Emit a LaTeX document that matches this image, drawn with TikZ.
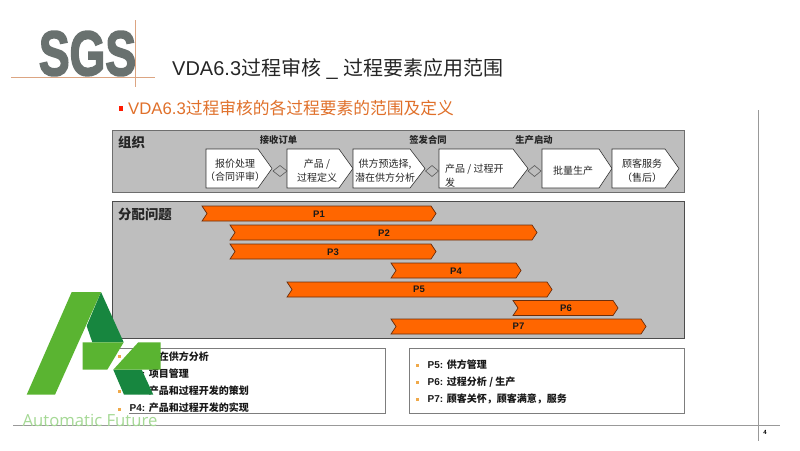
\documentclass[tikz,border=0pt]{standalone}
\usepackage{fontspec}
\usepackage{tikz}
\setmainfont{Liberation Sans}
\newfontfamily\cjk{Noto Sans CJK SC}
\newfontface\logofont{Liberation Sans Bold}[FakeBold=3]
\definecolor{SgsGray}{HTML}{69716F}
\definecolor{SgsLine}{HTML}{DCA582}
\definecolor{SubOrange}{HTML}{E0702A}
\definecolor{BarOrange}{HTML}{FF6600}
\definecolor{BarEdge}{HTML}{6B2E0C}
\definecolor{PanelGray}{HTML}{BEBEBE}
\definecolor{PanelEdge}{HTML}{6E6E6E}
\definecolor{BulletGold}{HTML}{EFA94A}
\definecolor{LogoLight}{HTML}{5AB431}
\definecolor{LogoDark}{HTML}{17863F}
\definecolor{LogoText}{HTML}{A5D995}
\tikzset{
  panelbox/.style={fill=PanelGray, draw=PanelEdge, line width=1pt},
  notebox/.style={fill=white, draw=PanelEdge!90, line width=1pt},
  procbox/.style={fill=white, draw=black!80, line width=0.6pt},
  gatemark/.style={fill=PanelGray, draw=black!65, line width=0.6pt},
  phasebar/.style={fill=BarOrange, draw=BarEdge, line width=0.7pt},
  barlabel/.style={font=\fontsize{9.5}{10}\selectfont\bfseries, text=black!90, inner sep=0pt},
  proclabel/.style={font=\fontsize{10}{13.5}\selectfont\cjk, align=center, text=black!85, inner sep=0pt},
  gatelabel/.style={font=\fontsize{9.3}{10}\selectfont\cjk\bfseries, text=black!85, inner sep=0pt},
  notelabel/.style={font=\fontsize{10}{10}\selectfont\bfseries, text=black!90, anchor=west, inner sep=0pt},
  notebullet/.style={fill=BulletGold, draw=none}
}

\begin{document}
\begin{tikzpicture}[x=1pt, y=-1pt]
  \useasboundingbox[fill=white] (0,0) rectangle (800,450);

  % SGS Logo
  \node[inner sep=0pt, text=SgsGray, font=\fontsize{63}{63}\logofont, xscale=0.73, transform shape] (sgslogo) at (87.5,53.5) {SGS};
  \draw[SgsLine, line width=1pt] (11,77) -- (155,77);
  \draw[SgsLine, line width=1pt] (135,20) -- (135,87);

  % Slide Titles
  \node[anchor=base west, inner sep=0pt, text=black!85, font=\fontsize{20}{20}\selectfont] (title) at (172,75.5) {VDA6.3{\cjk 过程审核} \_ {\cjk 过程要素应用范围}};
  \fill[red!80!orange] (118.5,106) rectangle (122.5,110.5);
  \node[anchor=base west, inner sep=0pt, text=SubOrange, font=\fontsize{16.75}{20}\selectfont] (subtitle) at (128,114) {VDA6.3{\cjk 过程审核的各过程要素的范围及定义}};

  % Page Frame
  \draw[gray!80, line width=0.7pt] (758,110) -- (758,441);
  \draw[gray!80, line width=0.7pt] (13,425.5) -- (780,425.5);
  \node[inner sep=0pt, font=\fontsize{6}{7}\selectfont\bfseries] (pagenum) at (765,432) {4};

  % Organisation Panel
  \draw[panelbox] (112,130.5) rectangle (684,192);
  \node[anchor=west, inner sep=0pt, font=\fontsize{13.4}{14}\selectfont\cjk\bfseries, text=black!85] (orglabel) at (118,142.5) {组织};
  \node[gatelabel] (gateorder) at (278.5,140) {接收订单};
  \node[gatelabel] (gatecontract) at (428,140) {签发合同};
  \node[gatelabel] (gatestart) at (534,140) {生产启动};

  \draw[procbox] (206,149) -- (258,149) -- (272,168.5) -- (258,188) -- (206,188) -- cycle;
  \node[proclabel] (quote) at (235,170.5) {报价处理\\（合同评审）};
  \draw[procbox] (287,149) -- (339,149) -- (353,168.5) -- (339,188) -- (287,188) -- cycle;
  \node[proclabel] (product) at (317,170.5) {产品 /\\过程定义};
  \draw[procbox] (353,149) -- (410,149) -- (425,168.5) -- (410,188) -- (353,188) -- cycle;
  \node[proclabel] (supplier) at (385,170.5) {供方预选择,\\潜在供方分析};
  \draw[procbox] (439,149) -- (513,149) -- (528,168.5) -- (513,188) -- (439,188) -- cycle;
  \node[proclabel, align=left, anchor=west] (develop) at (445,175.5) {产品 / 过程开\\发};
  \draw[procbox] (542,149) -- (599,149) -- (612,168.5) -- (599,188) -- (542,188) -- cycle;
  \node[proclabel] (batch) at (573,171) {批量生产};
  \draw[procbox] (612,149) -- (665,149) -- (679,168.5) -- (665,188) -- (612,188) -- cycle;
  \node[proclabel] (service) at (642,170.5) {顾客服务\\（售后）};

  \draw[gatemark] (273,171) -- (280,165.5) -- (287,171) -- (280,176.5) -- cycle;
  \draw[gatemark] (425.5,171) -- (432,165.5) -- (438.5,171) -- (432,176.5) -- cycle;
  \draw[gatemark] (528,171) -- (534.5,165.5) -- (541,171) -- (534.5,176.5) -- cycle;

  % Assignment Panel
  \draw[panelbox, draw=black!70] (112,201.5) rectangle (684,338);
  \node[anchor=west, inner sep=0pt, font=\fontsize{13.4}{14}\selectfont\cjk\bfseries, text=black!85] (assignlabel) at (118,214) {分配问题};

  \draw[phasebar] (202,206) -- (431,206) -- (436,213.5) -- (431,221) -- (202,221) -- (207,213.5) -- cycle;
  \node[barlabel] (p1) at (319,214) {P1};
  \draw[phasebar] (230,225) -- (532,225) -- (537,232.5) -- (532,240) -- (230,240) -- (235,232.5) -- cycle;
  \node[barlabel] (p2) at (384,233.5) {P2};
  \draw[phasebar] (230,244) -- (431,244) -- (436,251.5) -- (431,259) -- (230,259) -- (235,251.5) -- cycle;
  \node[barlabel] (p3) at (333,252) {P3};
  \draw[phasebar] (391,263) -- (516,263) -- (521,270.5) -- (516,278) -- (391,278) -- (396,270.5) -- cycle;
  \node[barlabel] (p4) at (456,271) {P4};
  \draw[phasebar] (287,282) -- (547,282) -- (552,289.5) -- (547,297) -- (287,297) -- (292,289.5) -- cycle;
  \node[barlabel] (p5) at (419,289.5) {P5};
  \draw[phasebar] (513,300.5) -- (613,300.5) -- (618,308) -- (613,315.5) -- (513,315.5) -- (518,308) -- cycle;
  \node[barlabel] (p6) at (566,308.5) {P6};
  \draw[phasebar] (391,319) -- (641,319) -- (646,326.5) -- (641,334) -- (391,334) -- (396,326.5) -- cycle;
  \node[barlabel] (p7) at (518.5,326.5) {P7};

  % Question Lists
  \draw[notebox] (120,348) -- (385.5,348) -- (385.5,413.5) -- (129,413.5);
  \fill[notebullet] (118,355) rectangle (121,358);
  \node[notelabel] (note1) at (129.5,357) {P1: {\cjk 潜在供方分析}};
  \fill[notebullet] (118,372.5) rectangle (121,375.5);
  \node[notelabel] (note2) at (129.5,374) {P2: {\cjk 项目管理}};
  \fill[notebullet] (118,390) rectangle (121,393);
  \node[notelabel] (note3) at (129.5,391) {P3: {\cjk 产品和过程开发的策划}};
  \fill[notebullet] (118,407.5) rectangle (121,410.5);
  \node[notelabel] (note4) at (129.5,408) {P4: {\cjk 产品和过程开发的实现}};

  \draw[notebox] (409,348) rectangle (684,413.5);
  \fill[notebullet] (416,363.5) rectangle (419,366.5);
  \node[notelabel] (note5) at (427.5,365) {P5: {\cjk 供方管理}};
  \fill[notebullet] (416,381) rectangle (419,384);
  \node[notelabel] (note6) at (427.5,382) {P6: {\cjk 过程分析 / 生产}};
  \fill[notebullet] (416,398) rectangle (419,401);
  \node[notelabel] (note7) at (427.5,399) {P7: {\cjk 顾客关怀，顾客满意，服务}};

  % Green Mark
  \fill[LogoDark] (101,292) -- (123.7,342.3) -- (92.3,342.3) -- (86.7,326) -- cycle;
  \fill[LogoLight] (71.7,292) -- (101,292) -- (55,394.7) -- (26.7,394.7) -- cycle;
  \fill[LogoLight] (82.7,342.3) -- (123.7,342.3) -- (107.3,369.7) -- (82.7,369.7) -- cycle;
  \fill[LogoDark] (113.3,369.7) -- (141.7,369.7) -- (153.3,394.7) -- (124,394.7) -- cycle;
  \fill[LogoLight] (138.3,342.3) -- (160.7,342.3) -- (160.7,369.7) -- (113.3,369.7) -- cycle;
  \node[inner sep=0pt, text=LogoText, font=\fontsize{16.7}{20}\selectfont\fontspec{Open Sans}] (markname) at (90,420) {Automatic Future};
\end{tikzpicture}
\end{document}
